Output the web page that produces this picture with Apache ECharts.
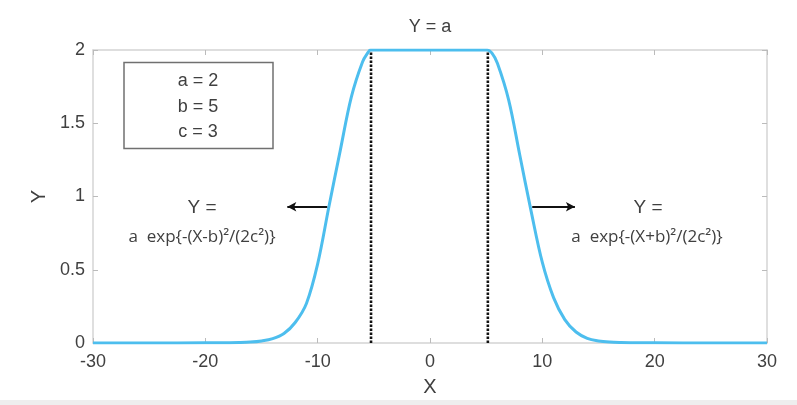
<!DOCTYPE html>
<html>
<head>
<meta charset="utf-8">
<script src="https://cdn.jsdelivr.net/npm/echarts@6/dist/echarts.min.js"></script>
<style>html,body{margin:0;padding:0;background:#fff}#c{width:797px;height:405px}</style>
</head>
<body>
<div id="c"></div>
<script>
// ---- data ----
const xValues = [-30,-25,-20,-18,-17,-16,-15,-14,-13,-12,-11,-10,-9,-8,-7,-6,-5.5,-5.3,0,5.1,5.5,6,7,8,9,10,11,12,13,14,15,16,17,18,20,25,30];
const yValues = [0,0,0.001,0.002,0.003,0.006,0.014,0.03,0.065,0.14,0.27,0.54,0.93,1.31,1.68,1.92,1.985,2,2,2,1.98,1.91,1.66,1.28,0.9,0.55,0.31,0.16,0.075,0.032,0.014,0.006,0.003,0.002,0.001,0,0];
const boundaryX = [-5.25, 5.15];
const boundaryY = [0, 2];
const xTicks = [-30,-20,-10,0,10,20,30];
const yTicks = [0,0.5,1,1.5,2];
const arrowLeft = [[-9.15,0.93],[-12.7,0.93]];
const arrowRight = [[9.1,0.93],[12.9,0.93]];
const paramLines = ['a = 2','b = 5','c = 3'];

const curve = xValues.map((x,i)=>[x,yValues[i]]);
const FONT = '"Liberation Sans", Arial, sans-serif';
const axisGray = '#d4d4d4';
const labelGray = '#404040';

const chart = echarts.init(document.getElementById('c'));
const commonX = {type:'value', min:xTicks[0], max:xTicks[xTicks.length-1], interval:10};
const commonY = {type:'value', min:yTicks[0], max:yTicks[yTicks.length-1], interval:0.5};

chart.setOption({
  animation:false,
  backgroundColor:'#fff',
  grid:{left:93, right:30, top:50, bottom:62},
  xAxis:[
    Object.assign({}, commonX, {position:'bottom', name:'X', nameLocation:'middle', nameGap:34,
      nameTextStyle:{fontFamily:FONT, fontSize:20, color:labelGray},
      axisLine:{onZero:false, lineStyle:{color:axisGray, width:1.5}},
      axisTick:{inside:true, length:5, lineStyle:{color:'#bbb'}},
      axisLabel:{fontFamily:FONT, fontSize:18, color:labelGray, margin:10},
      splitLine:{show:false}}),
    Object.assign({}, commonX, {position:'top',
      axisLine:{onZero:false, lineStyle:{color:axisGray, width:1.5}},
      axisTick:{inside:true, length:5, lineStyle:{color:'#bbb'}},
      axisLabel:{show:false}, splitLine:{show:false}})
  ],
  yAxis:[
    Object.assign({}, commonY, {position:'left', name:'Y', nameLocation:'middle', nameGap:42, nameRotate:90,
      nameTextStyle:{fontFamily:FONT, fontSize:20, color:labelGray},
      axisLine:{show:true, onZero:false, lineStyle:{color:axisGray, width:1.5}},
      axisTick:{show:true, inside:true, length:5, lineStyle:{color:'#bbb'}},
      axisLabel:{fontFamily:FONT, fontSize:18, color:labelGray, margin:8},
      splitLine:{show:false}}),
    Object.assign({}, commonY, {position:'right',
      axisLine:{show:true, onZero:false, lineStyle:{color:axisGray, width:1.5}},
      axisTick:{show:true, inside:true, length:5, lineStyle:{color:'#bbb'}},
      axisLabel:{show:false}, splitLine:{show:false}})
  ],
  series:[
    {type:'line', data:[[boundaryX[0],boundaryY[0]],[boundaryX[0],boundaryY[1]]], showSymbol:false, symbol:'none',
      lineStyle:{color:'#111', width:2.6, type:[2.4,1.6]}, z:2},
    {type:'line', data:[[boundaryX[1],boundaryY[0]],[boundaryX[1],boundaryY[1]]], showSymbol:false, symbol:'none',
      lineStyle:{color:'#111', width:2.6, type:[2.4,1.6]}, z:2},
    {type:'line', data:curve, showSymbol:false, symbol:'none', smooth:0.35,
      lineStyle:{color:'#4DBEEE', width:3}, z:3},
    {type:'line', data:[], symbol:'none',
      markLine:{silent:true, symbol:['none','arrow'], symbolSize:[7,9],
        lineStyle:{color:'#111', width:2, type:'solid'}, label:{show:false},
        data:[
          [{coord:arrowLeft[0]},{coord:arrowLeft[1]}],
          [{coord:arrowRight[0]},{coord:arrowRight[1]}]
        ]}}
  ],
  graphic:[
    {type:'rect', left:0, top:400, shape:{width:797, height:5}, style:{fill:'#eeeeee'}, silent:true},
    {type:'text', x:430, y:27, style:{text:'Y = a', font:'18px '+FONT, fill:labelGray, align:'center', verticalAlign:'middle'}},
    {type:'rect', shape:{x:124, y:62.5, width:149, height:86}, style:{fill:'#fff', stroke:'#707070', lineWidth:1.5}},
    {type:'text', x:198, y:81, style:{text:paramLines[0], font:'18px '+FONT, fill:labelGray, align:'center', verticalAlign:'middle'}},
    {type:'text', x:198, y:107, style:{text:paramLines[1], font:'18px '+FONT, fill:labelGray, align:'center', verticalAlign:'middle'}},
    {type:'text', x:198, y:132, style:{text:paramLines[2], font:'18px '+FONT, fill:labelGray, align:'center', verticalAlign:'middle'}},
    {type:'text', x:202, y:208, style:{text:'Y =', font:'19px '+FONT, fill:labelGray, align:'center', verticalAlign:'middle'}},
    {type:'text', x:202, y:237, style:{text:'a  exp{-(X-b)²/(2c²)}', font:'17px "Open Sans", '+FONT, fill:labelGray, align:'center', verticalAlign:'middle'}},
    {type:'text', x:648, y:208, style:{text:'Y =', font:'19px '+FONT, fill:labelGray, align:'center', verticalAlign:'middle'}},
    {type:'text', x:647, y:237, style:{text:'a  exp{-(X+b)²/(2c²)}', font:'17px "Open Sans", '+FONT, fill:labelGray, align:'center', verticalAlign:'middle'}}
  ]
});
</script>
</body>
</html>
